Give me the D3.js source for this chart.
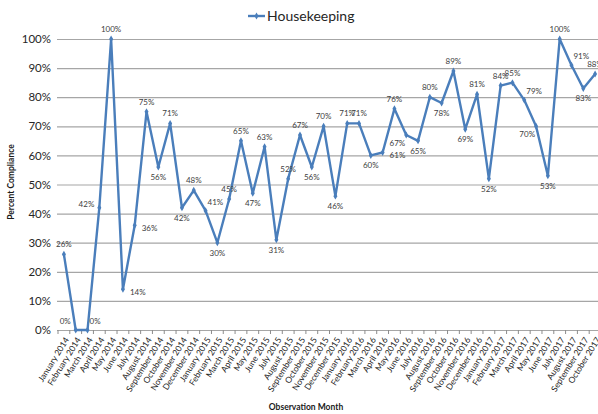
<!DOCTYPE html>
<html>
<head>
<meta charset="utf-8">
<script src="https://cdn.jsdelivr.net/npm/d3@7/dist/d3.min.js"></script>
<style>
  html, body { margin: 0; padding: 0; background: #fff; }
  svg { display: block; font-family: Lato, "Open Sans", sans-serif; }
</style>
</head>
<body>
<svg id="chart" width="598" height="414"></svg>
<script>
// Monthly observations
const months = [
  "January 2014","February 2014","March 2014","April 2014","May 2014","June 2014",
  "July 2014","August 2014","September 2014","October 2014","November 2014","December 2014",
  "January 2015","February 2015","March 2015","April 2015","May 2015","June 2015",
  "July 2015","August 2015","September 2015","October 2015","November 2015","December 2015",
  "January 2016","February 2016","March 2016","April 2016","May 2016","June 2016",
  "July 2016","August 2016","September 2016","October 2016","November 2016","December 2016",
  "January 2017","February 2017","March 2017","April 2017","May 2017","June 2017",
  "July 2017","August 2017","September 2017","October 2017"
];

// Housekeeping compliance (percent)
const housekeeping = [
  26, 0, 0, 42, 100, 14,
  36, 75, 56, 71, 42, 48,
  41, 30, 45, 65, 47, 63,
  31, 52, 67, 56, 70, 46,
  71, 71, 60, 61, 76, 67,
  65, 80, 78, 89, 69, 81,
  52, 84, 85, 79, 70, 53,
  100, 91, 83, 88
];

// Where each value label sits relative to its point:
// A above, B below, L left, R right, AL/AR above-left/right, BL below-left
const labelSide = [
  "A","AL","AR","L","A","R",
  "R","A","B","A","B","A",
  "AR","B","A","A","B","A",
  "B","A","A","B","A","B",
  "A","A","B","R","A","BL",
  "B","A","B","A","B","A",
  "B","A","A","AR","BL","B",
  "A","AR","B","A"
];

const yTicks = [0, 10, 20, 30, 40, 50, 60, 70, 80, 90, 100];

const svg = d3.select("#chart");
const plotLeft = 57, plotRight = 601, plotTop = 39, plotBottom = 330;

const xBand = d3.scaleBand().domain(months).range([plotLeft + 1, plotRight]);
const x = d => xBand(d) + xBand.bandwidth() / 2;
const y = d3.scaleLinear().domain([0, 100]).range([plotBottom, plotTop]);

// Horizontal gridlines and percent labels
const yAxis = svg.append("g")
  .attr("transform", `translate(${plotLeft},0)`)
  .call(d3.axisLeft(y).tickValues(yTicks).tickFormat(d => d + "%")
    .tickSize(-(plotRight - plotLeft)).tickPadding(6));
yAxis.select(".domain").remove();
yAxis.selectAll(".tick line").attr("stroke", "#a6a6a6").attr("stroke-width", 1.2);
yAxis.selectAll(".tick text")
  .attr("fill", "#262626").attr("font-size", 11.5).attr("font-family", "Lato, sans-serif");

// Category tick marks between months
const tickPos = months.map(m => xBand(m)).concat([xBand.range()[1]]);
svg.append("g").selectAll("line").data(tickPos).join("line")
  .attr("x1", d => d).attr("x2", d => d)
  .attr("y1", plotBottom).attr("y2", plotBottom + 4)
  .attr("stroke", "#8c8c8c").attr("stroke-width", 1);

// Rotated month labels
svg.append("g").selectAll("text").data(months).join("text")
  .attr("transform", d => `translate(${x(d) + 3},${plotBottom + 8}) rotate(-58)`)
  .attr("text-anchor", "end")
  .attr("dy", "0.35em")
  .attr("font-size", 8.5)
  .attr("fill", "#262626")
  .text(d => d);

// Series line
const pts = months.map((m, i) => ({ m, v: housekeeping[i], side: labelSide[i] }));
const color = "#4a7ebb";
svg.append("path")
  .datum(pts)
  .attr("fill", "none")
  .attr("stroke", color)
  .attr("stroke-width", 2.4)
  .attr("stroke-linejoin", "round")
  .attr("d", d3.line().x(d => x(d.m)).y(d => y(d.v)));

// Markers
svg.append("g").selectAll("path").data(pts).join("path")
  .attr("transform", d => `translate(${x(d.m)},${y(d.v)})`)
  .attr("d", d3.symbol(d3.symbolDiamond, 14)())
  .attr("fill", color);

// Value labels
const off = {
  A:  { dx: 0,  dy: -7, anchor: "middle" },
  B:  { dx: 0,  dy: 13, anchor: "middle" },
  L:  { dx: -5, dy: -1, anchor: "end" },
  R:  { dx: 7,  dy: 6,  anchor: "start" },
  AL: { dx: -5, dy: -6, anchor: "end" },
  AR: { dx: 2,  dy: -6, anchor: "start" },
  BL: { dx: -1, dy: 11, anchor: "end" }
};
svg.append("g").selectAll("text").data(pts).join("text")
  .attr("x", d => x(d.m) + off[d.side].dx)
  .attr("y", d => y(d.v) + off[d.side].dy)
  .attr("text-anchor", d => off[d.side].anchor)
  .attr("font-size", 8)
  .attr("fill", "#404040")
  .text(d => d.v + "%");

// Legend
const lg = svg.append("g").attr("transform", "translate(248,16)");
lg.append("line").attr("x1", 0).attr("x2", 17).attr("y1", 0).attr("y2", 0)
  .attr("stroke", color).attr("stroke-width", 2.4);
lg.append("path").attr("transform", "translate(8.5,0)")
  .attr("d", d3.symbol(d3.symbolDiamond, 14)()).attr("fill", color);
lg.append("text").attr("x", 19).attr("y", 5)
  .attr("font-size", 14).attr("fill", "#262626").text("Housekeeping");

// Axis titles
svg.append("text")
  .attr("transform", "translate(14,182) rotate(-90)")
  .attr("text-anchor", "middle")
  .attr("font-size", 8.5).attr("font-weight", "bold").attr("fill", "#1a1a1a")
  .text("Percent Compliance");
svg.append("text")
  .attr("x", 306).attr("y", 410)
  .attr("text-anchor", "middle")
  .attr("font-size", 8.5).attr("font-weight", "bold").attr("fill", "#1a1a1a")
  .text("Observation Month");
</script>
</body>
</html>
